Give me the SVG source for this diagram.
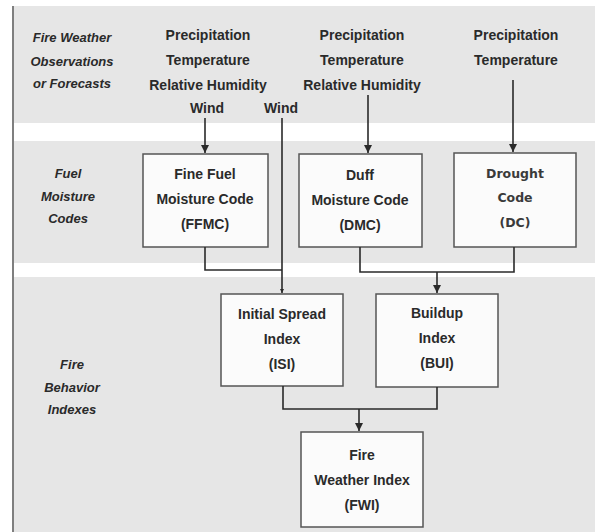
<svg xmlns="http://www.w3.org/2000/svg" width="595" height="532" viewBox="0 0 595 532">
<defs>
<style>
.band{fill:#e6e6e6}
.box{fill:#fbfbfb;stroke:#555;stroke-width:1.5}
.t{font-family:"Liberation Sans",Arial,sans-serif;font-weight:bold;font-size:14px;fill:#2a2a2a;text-anchor:middle}
.dc{font-family:"DejaVu Sans",sans-serif;font-weight:bold;font-size:12.5px;fill:#3a3a3a;text-anchor:middle}
.lab{font-family:"Liberation Sans",Arial,sans-serif;font-weight:bold;font-style:italic;font-size:13px;fill:#2a2a2a;text-anchor:middle}
.ln{fill:none;stroke:#2a2a2a;stroke-width:1.6}
</style>
<marker id="ah" viewBox="0 0 10 10" refX="10" refY="5" markerWidth="5" markerHeight="5" orient="auto" markerUnits="strokeWidth">
<path d="M0,0 L10,5 L0,10 Z" fill="#2a2a2a"/>
</marker>
<marker id="ahs" viewBox="0 0 10 10" refX="10" refY="5" markerWidth="2.5" markerHeight="2.5" orient="auto" markerUnits="strokeWidth">
<path d="M0,0 L10,5 L0,10 Z" fill="#2a2a2a"/>
</marker>
</defs>
<rect width="595" height="532" fill="#ffffff"/>
<rect class="band" x="14" y="6" width="581" height="117"/>
<rect class="band" x="14" y="141" width="581" height="122"/>
<rect class="band" x="14" y="277" width="581" height="255"/>
<line x1="13" y1="6" x2="13" y2="532" stroke="#555" stroke-width="1.5"/>

<g id="row-labels">
<text class="lab" x="72" y="42">Fire Weather</text>
<text class="lab" x="72" y="66">Observations</text>
<text class="lab" x="72" y="88">or Forecasts</text>
<text class="lab" x="68" y="178">Fuel</text>
<text class="lab" x="68" y="201">Moisture</text>
<text class="lab" x="68" y="223">Codes</text>
<text class="lab" x="72" y="369">Fire</text>
<text class="lab" x="72" y="392">Behavior</text>
<text class="lab" x="72" y="414">Indexes</text>
</g>

<g id="inputs-ffmc">
<text class="t" x="208" y="40">Precipitation</text>
<text class="t" x="208" y="65">Temperature</text>
<text class="t" x="208" y="90">Relative Humidity</text>
<text class="t" x="207" y="113">Wind</text>
</g>
<g id="input-wind-isi">
<text class="t" x="281" y="113">Wind</text>
</g>
<g id="inputs-dmc">
<text class="t" x="362" y="40">Precipitation</text>
<text class="t" x="362" y="65">Temperature</text>
<text class="t" x="362" y="90">Relative Humidity</text>
</g>
<g id="inputs-dc">
<text class="t" x="516" y="40">Precipitation</text>
<text class="t" x="516" y="65">Temperature</text>
</g>

<g id="ffmc">
<rect class="box" x="143" y="154" width="125" height="93"/>
<text class="t" x="205" y="179">Fine Fuel</text>
<text class="t" x="205" y="204">Moisture Code</text>
<text class="t" x="205" y="229">(FFMC)</text>
</g>
<g id="dmc">
<rect class="box" x="299" y="154" width="123" height="93"/>
<text class="t" x="360" y="180">Duff</text>
<text class="t" x="360" y="205">Moisture Code</text>
<text class="t" x="360" y="230">(DMC)</text>
</g>
<g id="dc">
<rect class="box" x="454" y="153" width="122" height="94"/>
<text class="dc" x="515" y="178">Drought</text>
<text class="dc" x="515" y="202">Code</text>
<text class="dc" x="515" y="227">(DC)</text>
</g>
<g id="isi">
<rect class="box" x="221" y="294" width="122" height="92"/>
<text class="t" x="282" y="319">Initial Spread</text>
<text class="t" x="282" y="344">Index</text>
<text class="t" x="282" y="369">(ISI)</text>
</g>
<g id="bui">
<rect class="box" x="376" y="294" width="122" height="93"/>
<text class="t" x="437" y="318">Buildup</text>
<text class="t" x="437" y="343">Index</text>
<text class="t" x="437" y="368">(BUI)</text>
</g>
<g id="fwi">
<rect class="box" x="301" y="432" width="122" height="95"/>
<text class="t" x="362" y="460">Fire</text>
<text class="t" x="362" y="485">Weather Index</text>
<text class="t" x="362" y="510">(FWI)</text>
</g>

<g id="connectors">
<line class="ln" x1="205" y1="118" x2="205" y2="153" marker-end="url(#ah)"/>
<line class="ln" x1="368" y1="95" x2="368" y2="153" marker-end="url(#ah)"/>
<line class="ln" x1="513" y1="80" x2="513" y2="152" marker-end="url(#ah)"/>
<line class="ln" x1="282" y1="118" x2="282" y2="293" marker-end="url(#ahs)"/>
<polyline class="ln" points="205,247 205,270 282,270"/>
<polyline class="ln" points="360,247 360,272 514,272 514,247"/>
<line class="ln" x1="437" y1="272" x2="437" y2="293" marker-end="url(#ah)"/>
<polyline class="ln" points="283,386 283,409 437,409 437,387"/>
<line class="ln" x1="359" y1="409" x2="359" y2="431" marker-end="url(#ah)"/>
</g>
</svg>
